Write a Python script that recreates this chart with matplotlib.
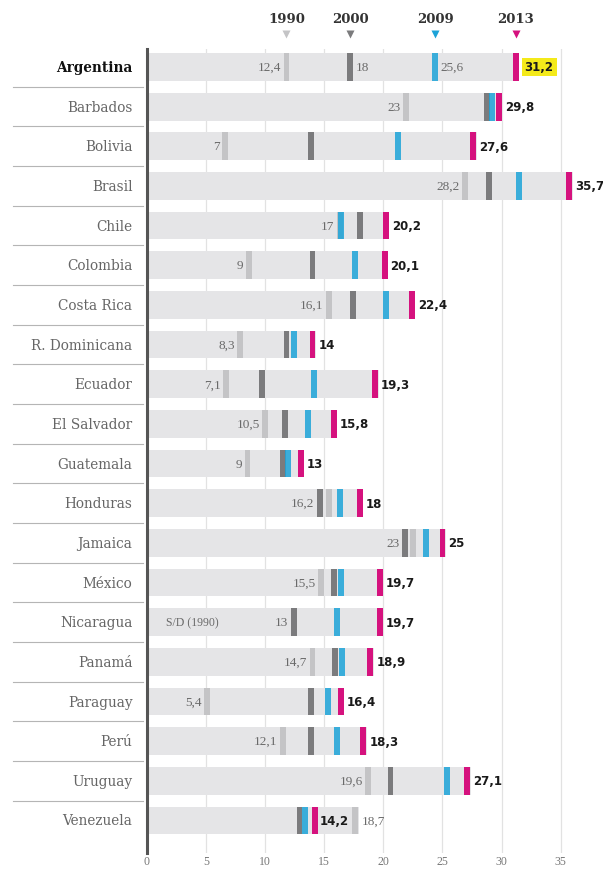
import numpy as np
import matplotlib.pyplot as plt

countries = ["Argentina", "Barbados", "Bolivia", "Brasil", "Chile", "Colombia",
             "Costa Rica", "R. Dominicana", "Ecuador", "El Salvador", "Guatemala",
             "Honduras", "Jamaica", "México", "Nicaragua", "Panamá", "Paraguay",
             "Perú", "Uruguay", "Venezuela"]

# marker positions (nan = no data)
pos1990 = [11.8, 21.9, 6.6, 26.9, 16.3, 8.6, 15.4, 7.9, 6.7, 10.0, 8.5,
           15.4, 22.5, 14.75, np.nan, 14.0, 5.1, 11.5, 18.7, 17.6]
pos2000 = [17.2, 28.8, 13.9, 28.9, 18.0, 14.0, 17.4, 11.8, 9.7, 11.7, 11.5,
           14.6, 21.8, 15.8, 12.4, 15.9, 13.9, 13.9, 20.6, 12.9]
pos2009 = [24.4, 29.2, 21.2, 31.5, 16.4, 17.6, 20.2, 12.4, 14.1, 13.6, 11.9,
           16.3, 23.6, 16.4, 16.1, 16.5, 15.3, 16.1, 25.4, 13.4]
val2013 = [31.2, 29.8, 27.6, 35.7, 20.2, 20.1, 22.4, 14, 19.3, 15.8, 13,
           18, 25, 19.7, 19.7, 18.9, 16.4, 18.3, 27.1, 14.2]

# text labels next to the leftmost marker
lab_left = ["12,4", "23", "7", "28,2", "17", "9", "16,1", "8,3", "7,1", "10,5", "9",
            "16,2", "23", "15,5", "13", "14,7", "5,4", "12,1", "19,6", "18,7"]
arg_extra = ["18", "25,6"]
years = ["1990", "2000", "2009", "2013"]

c_bar = "#e5e5e7"
c90 = "#c4c4c6"
c00 = "#7b7b7d"
c09 = "#1ca3d8"
c13 = "#d5127e"

fig = plt.figure(figsize=(6.03, 8.70), dpi=100)
ax = fig.add_axes([147/603, 16/870, 456/603, 804/870])

y = np.arange(len(countries))
mw = 0.5
h = 0.7

allpos = np.vstack([pos1990, pos2000, pos2009, val2013])
bar_end = np.nanmax(allpos, axis=0) + 0.3
low = np.nanmin(allpos, axis=0)

ax.barh(y, bar_end, height=h, color=c_bar, zorder=1)
ax.barh(y, mw, left=np.array(pos1990) - mw/2, height=h, color=c90, zorder=3)
ax.barh(y, mw, left=np.array(pos2000) - mw/2, height=h, color=c00, zorder=3)
ax.barh(y, mw, left=np.array(pos2009) - mw/2, height=h, color=c09, alpha=0.85, zorder=4)
ax.barh(y, mw, left=np.array(val2013) - mw/2, height=h, color=c13, zorder=5)

num_font = dict(family="Liberation Serif", fontsize=9.5, color="#6a6a6a")
bold_font = dict(family="DejaVu Sans", fontsize=8.5, fontweight="bold", color="#1a1a1a")

for i in range(len(countries)):
    p90 = pos1990[i]
    if not np.isnan(p90) and p90 >= np.nanmax(allpos[:, i]):
        # 1990 is the largest value: label after the bar
        ax.text(bar_end[i] + 0.3, i, lab_left[i], ha="left", va="center", **num_font)
        ax.text(val2013[i] + 0.45, i, f"{val2013[i]:g}".replace(".", ","),
                ha="left", va="center", zorder=6, **bold_font)
        continue
    ax.text(low[i] - 0.45, i, lab_left[i], ha="right", va="center", **num_font)
    if np.isnan(p90):
        ax.text(1.6, i, "S/D (1990)", ha="left", va="center",
                family="Liberation Serif", fontsize=8.5, color="#6a6a6a")
    txt = f"{val2013[i]:g}".replace(".", ",")
    if i == 0:
        ax.text(val2013[i] + 0.75, i, txt, ha="left", va="center", zorder=6,
                bbox=dict(boxstyle="square,pad=0.25", fc="#f4ea1a", ec="none"),
                **bold_font)
    else:
        ax.text(bar_end[i] + 0.2, i, txt, ha="left", va="center", **bold_font)

# Argentina: the other values are shown too
ax.text(pos2000[0] + 0.45, 0, arg_extra[0], ha="left", va="center", **num_font)
ax.text(pos2009[0] + 0.45, 0, arg_extra[1], ha="left", va="center", **num_font)

# header with the years
head_x = [pos1990[0], pos2000[0], pos2009[0], val2013[0]]
for xx, yr, col in zip(head_x, years, [c90, c00, c09, c13]):
    ax.text(xx, -1.21, yr, ha="center", va="center", family="DejaVu Serif",
            fontsize=9.5, fontweight="bold", color="#333333", clip_on=False)
    ax.plot(xx, -0.84, marker="v", ms=6, color=col, mec="none", clip_on=False)

# country names and separators
tr = ax.get_yaxis_transform()
for i, name in enumerate(countries):
    ax.text(-0.032, i, name, transform=tr, ha="right", va="center",
            family="DejaVu Serif", fontsize=9.8,
            fontweight="bold" if i == 0 else "normal",
            color="#111111" if i == 0 else "#666666")
for i in range(len(countries) - 1):
    ax.plot([-0.294, -0.009], [i + 0.5, i + 0.5], transform=tr,
            color="#b5b5b5", lw=0.8, clip_on=False)

ax.set_xlim(0, 38.58)
ax.set_ylim(19.82, -0.453)
ax.set_xticks(range(0, 40, 5))
ax.set_xticklabels([str(t) for t in range(0, 40, 5)], family="Liberation Serif",
                   fontsize=8.5, color="#777777")
ax.set_yticks([])
ax.tick_params(axis="x", length=0, pad=1.5)
ax.xaxis.grid(True, color="#e2e2e2", lw=0.9, zorder=0)
ax.set_axisbelow(True)
for s in ["top", "right", "bottom"]:
    ax.spines[s].set_visible(False)
ax.spines["left"].set_color("#555555")
ax.spines["left"].set_linewidth(2.2)

plt.savefig("out.png", dpi=100)
